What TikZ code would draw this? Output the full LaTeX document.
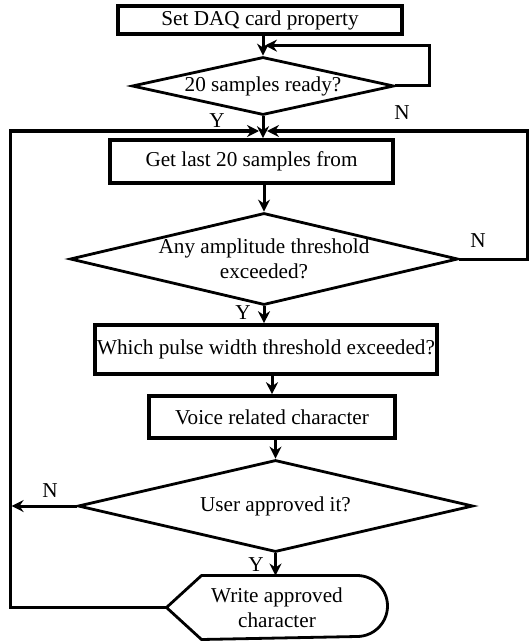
\documentclass[tikz,border=0pt]{standalone}
\usepackage{fontspec}
\setmainfont{Liberation Serif}
\usetikzlibrary{arrows.meta, positioning, calc, shapes.geometric}

\begin{document}
\begin{tikzpicture}[x=0.5pt, y=-0.5pt, >={Stealth[length=6pt, width=6pt, inset=2pt]}, line width=1.5pt,
    font=\fontsize{10.6}{12.5}\selectfont,
    procbox/.style={draw, rectangle, inner sep=0pt, line width=1.8pt},
    decision/.style={draw, diamond, inner sep=0pt, line width=1.4pt}]
    \useasboundingbox (0,0) rectangle (530,642);
    % blocks
    \node[procbox, minimum width=142pt, minimum height=14pt] (daq) at (260,20) {Set DAQ card property};
    \node[decision, minimum width=131pt, minimum height=29pt, label=center:20 samples ready?] (ready) at (263,86) {};
    \node[procbox, minimum width=141.5pt, minimum height=21.5pt] (get) at (251.5,161.5) {Get last 20 samples from};
    \node[decision, minimum width=194pt, minimum height=46pt, label={[align=center]center:{Any amplitude threshold\\exceeded?}}] (amp) at (264,259) {};
    \node[procbox, minimum width=171pt, minimum height=24.5pt] (pw) at (266,349.5) {Which pulse width threshold exceeded?};
    \node[procbox, minimum width=123pt, minimum height=21pt] (voice) at (272,417) {Voice related character};
    \node[decision, minimum width=197.5pt, minimum height=46pt, label=center:User approved it?] (user) at (275.5,506) {};
    \node[align=center, minimum width=109pt, minimum height=30.5pt, inner sep=0pt] (write) at (277,607.5) {Write approved\\character};
    \draw[line width=1.4pt] (write.west) -- ($(write.north west)+(35,0)$) -- ($(write.north east)+(-30.5,0)$)
        arc[start angle=90, end angle=-90, radius=15.25pt] -- ($(write.south west)+(35,0)$) -- cycle;

    \coordinate (merge) at ($(ready.north)+(0,-10)$);
    \coordinate (join) at (263,131);
    \coordinate (rt) at (527,131);
    \coordinate (lt) at (10,131);

    % connectors
    \draw[->] (ready.north |- daq.south) -- (ready.north);
    \draw[->] (ready.east) -- ++(34,0) |- ($(merge)+(2,0)$);
    \draw[->] (ready.south) -- (ready.south |- get.north);
    \draw[->] (amp.east) -| (rt) -- ($(join)+(4,0)$);
    \draw[->] (write.west) -| (lt) -- ($(join)+(-4,0)$);
    \draw[->] (amp.north |- get.south) -- (amp.north);
    \draw[->] (amp.south) -- (amp.south |- pw.north);
    \draw[->] (voice.north |- pw.south) -- (voice.north);
    \draw[->] (user.north |- voice.south) -- (user.north);
    \draw[->] (user.south) -- (user.south |- write.north);
    \draw[->] (user.west) -- ++(-65,0);

    % Y / N
    \node (y1) at (217,121) {Y};
    \node (n1) at (402,113) {N};
    \node (n2) at (478,241) {N};
    \node (y2) at (243,313) {Y};
    \node (n3) at (50,491) {N};
    \node (y3) at (256,565) {Y};
\end{tikzpicture}
\end{document}
